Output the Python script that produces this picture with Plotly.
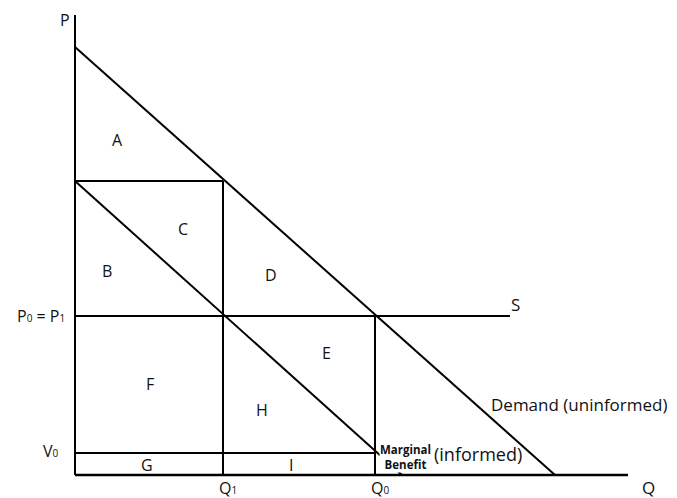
import plotly.graph_objects as go

# values (units: pixels from origin)
axis_q = [0, 553]
axis_p = [0, 460]
demand_q = [0, 480]
demand_p = [428, 0]
mb_q = [0, 327]
mb_p = [294, 0]
q1 = 148
q0 = 300
p_top = 294   # price where MB meets the P axis
p0 = 159
v0 = 22
s_end = 435

area_labels = ["A", "B", "C", "D", "E", "F", "H", "G", "I"]
area_x = [42, 32, 108, 196, 251, 75, 187, 72, 216]
area_y = [335, 204, 246, 200, 122, 91, 65, 10, 10]

INK = "#111111"
FONT = "Open Sans"

fig = go.Figure()

def seg(xs, ys, w=2):
    fig.add_trace(go.Scatter(x=xs, y=ys, mode="lines",
                             line=dict(color="black", width=w),
                             hoverinfo="skip", showlegend=False))

# axes
seg([0, 0], axis_p, 2)
seg(axis_q, [0, 0], 2.5)
# demand and marginal benefit
seg(demand_q, demand_p)
seg(mb_q, mb_p)
# boxes
seg([0, q1], [p_top, p_top])
seg([q1, q1], [p_top, 0])
seg([0, s_end], [p0, p0])
seg([q0, q0], [p0, 0])
seg([0, q0], [v0, v0])

def lab(x, y, t, size=16, xanchor="center", **kw):
    fig.add_annotation(x=x, y=y, text=t, showarrow=False, xanchor=xanchor,
                       font=dict(size=size, color=INK, family=FONT), **kw)

def sub(d):
    return f'<span style="font-size:10px">{d}</span>'

for t, x, y in zip(area_labels, area_x, area_y):
    lab(x, y, t)

lab(-10, 455, "P")
lab(-8, p0, f"P{sub(0)} = P{sub(1)}", xanchor="right")
lab(-14, v0 + 2, f"V{sub(0)}", xanchor="right")
lab(q1 + 5, -13, f"Q{sub(1)}")
lab(q0 + 5, -13, f"Q{sub(0)}")
lab(573, -12, "Q", size=17)
lab(440, 171, "S", size=17)
lab(414, 71, "Demand (uninformed)", size=17, xanchor="left")
lab(357, 21, "(informed)", size=18, xanchor="left")
fig.add_annotation(x=304, y=18, text="<b>Marginal<br>Benefit</b>", showarrow=False,
                   xanchor="left", align="center", bgcolor="white",
                   font=dict(size=11.5, color=INK, family=FONT), borderpad=0)

# page keeps an 8px body margin, so the figure is drawn 8px in
fig.update_layout(
    width=669, height=490,
    margin=dict(l=0, r=0, t=0, b=0),
    paper_bgcolor="white", plot_bgcolor="white",
    xaxis=dict(range=[-67, 602], visible=False, fixedrange=True),
    yaxis=dict(range=[-23, 467], visible=False, fixedrange=True),
    showlegend=False,
)

fig.write_html("out.html")
